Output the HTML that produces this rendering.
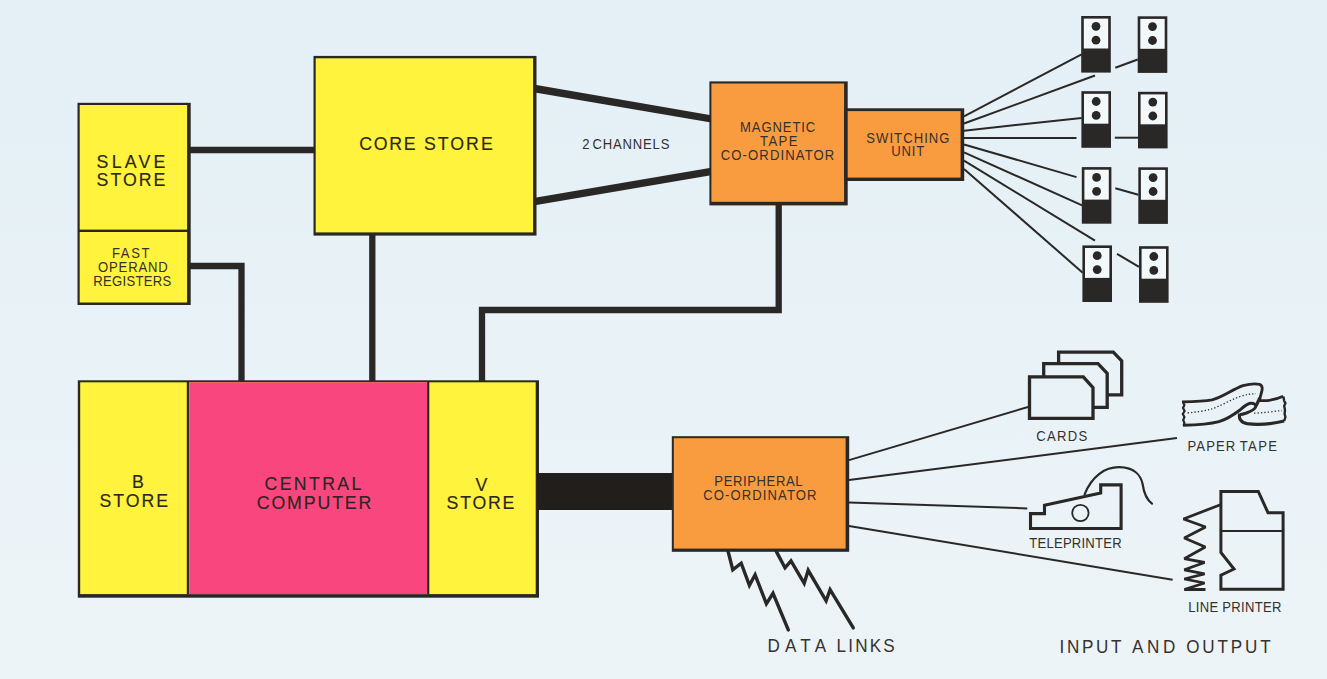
<!DOCTYPE html>
<html><head><meta charset="utf-8"><style>
html,body{margin:0;padding:0;background:#e8f2f7;}
svg{display:block;}
text{font-family:"Liberation Sans",sans-serif;fill:#35312d;}
text.L{fill:#2a2622;stroke:#2a2622;stroke-width:0.15px;}
</style></head><body>
<svg width="1327" height="679" viewBox="0 0 1327 679">
<defs><linearGradient id="bgg" x1="0" y1="0" x2="0" y2="1"><stop offset="0" stop-color="#e4f0f6"/><stop offset="0.5" stop-color="#e8f2f7"/><stop offset="1" stop-color="#edf4f7"/></linearGradient></defs>
<rect width="1327" height="679" fill="url(#bgg)"/>
<rect x="77.5" y="102.8" width="113.20" height="202.20" fill="#2a2727"/><rect x="79.70" y="105.00" width="107.40" height="197.50" fill="#fff33e"/>
<rect x="78" y="229.6" width="112" height="2.4" fill="#2a2727"/>
<rect x="313.5" y="55.9" width="223.00" height="179.70" fill="#2a2727"/><rect x="315.70" y="58.30" width="217.40" height="174.10" fill="#fff33e"/>
<line x1="189" y1="150" x2="315" y2="150" stroke="#2a2727" stroke-width="6.3"/>
<polyline points="189,266 241.5,266 241.5,381" fill="none" stroke="#2a2727" stroke-width="6.3" stroke-linejoin="miter"/>
<line x1="372.3" y1="234" x2="372.3" y2="381" stroke="#2a2727" stroke-width="6.3"/>
<polyline points="778.7,204 778.7,310 482,310 482,381" fill="none" stroke="#2a2727" stroke-width="6.3"/>
<polygon points="535,84.7 711,115.3 711,122.4 535,92.4" fill="#2a2727"/>
<polygon points="535,197.7 711,167.7 711,175.3 535,205.3" fill="#2a2727"/>
<rect x="709.4" y="81.4" width="138.30" height="124.00" fill="#2a2727"/><rect x="711.40" y="83.50" width="132.70" height="118.30" fill="#f99c40"/>
<rect x="844.1" y="108.3" width="120.10" height="72.70" fill="#2a2727"/><rect x="847.70" y="111.10" width="112.90" height="66.50" fill="#f99c40"/>
<rect x="77.8" y="380.3" width="461.20" height="217.40" fill="#2a2727"/><rect x="80.20" y="382.30" width="455.50" height="211.80" fill="#fff33e"/>
<rect x="189.3" y="382.3" width="237.7" height="211.8" fill="#f9467f"/><rect x="186.8" y="381" width="2.3" height="213" fill="#2a2727"/><rect x="427.1" y="381" width="2.2" height="213" fill="#2a2727"/>
<rect x="537" y="473" width="136" height="37" fill="#221e1c"/>
<rect x="671.8" y="436.2" width="177.40" height="115.60" fill="#2a2727"/><rect x="673.80" y="438.20" width="171.80" height="110.40" fill="#f99c40"/>
<line x1="964" y1="116.3" x2="1081.6" y2="54.4" stroke="#2a2727" stroke-width="2"/>
<line x1="964" y1="123.5" x2="1095" y2="75.5" stroke="#2a2727" stroke-width="2"/>
<line x1="964" y1="130.7" x2="1081.6" y2="118" stroke="#2a2727" stroke-width="2"/>
<line x1="964" y1="138" x2="1076.5" y2="138" stroke="#2a2727" stroke-width="2"/>
<line x1="964" y1="144.5" x2="1076.5" y2="177.1" stroke="#2a2727" stroke-width="2"/>
<line x1="964" y1="152.4" x2="1082.7" y2="205.6" stroke="#2a2727" stroke-width="2"/>
<line x1="964" y1="160.6" x2="1095" y2="240.6" stroke="#2a2727" stroke-width="2"/>
<line x1="964" y1="168.9" x2="1082.7" y2="272.7" stroke="#2a2727" stroke-width="2"/>
<line x1="1115.3" y1="67.7" x2="1137.7" y2="59.5" stroke="#2a2727" stroke-width="2"/>
<line x1="1114.8" y1="137.7" x2="1138" y2="137.7" stroke="#2a2727" stroke-width="2"/>
<line x1="1115.3" y1="188.3" x2="1138.3" y2="194.7" stroke="#2a2727" stroke-width="2"/>
<line x1="1117" y1="253.8" x2="1139" y2="266.8" stroke="#2a2727" stroke-width="2"/>
<rect x="1081.2" y="16" width="29.6" height="56.6" fill="#2a2727"/>
<rect x="1083.8" y="18.6" width="24.400000000000002" height="29.9" fill="#f3f8fb"/>
<circle cx="1096.0" cy="26.3" r="4.4" fill="#2a2727"/>
<circle cx="1096.0" cy="40.2" r="4.4" fill="#2a2727"/>
<rect x="1137.7" y="16.3" width="29.6" height="56.6" fill="#2a2727"/>
<rect x="1140.3" y="18.900000000000002" width="24.400000000000002" height="29.9" fill="#f3f8fb"/>
<circle cx="1152.5" cy="26.6" r="4.4" fill="#2a2727"/>
<circle cx="1152.5" cy="40.5" r="4.4" fill="#2a2727"/>
<rect x="1081.4" y="91.2" width="29.6" height="56.6" fill="#2a2727"/>
<rect x="1084.0" y="93.8" width="24.400000000000002" height="29.9" fill="#f3f8fb"/>
<circle cx="1096.2" cy="101.5" r="4.4" fill="#2a2727"/>
<circle cx="1096.2" cy="115.4" r="4.4" fill="#2a2727"/>
<rect x="1138" y="91.8" width="29.6" height="56.6" fill="#2a2727"/>
<rect x="1140.6" y="94.39999999999999" width="24.400000000000002" height="29.9" fill="#f3f8fb"/>
<circle cx="1152.8" cy="102.1" r="4.4" fill="#2a2727"/>
<circle cx="1152.8" cy="116.0" r="4.4" fill="#2a2727"/>
<rect x="1081.8" y="167.1" width="29.6" height="56.6" fill="#2a2727"/>
<rect x="1084.3999999999999" y="169.7" width="24.400000000000002" height="29.9" fill="#f3f8fb"/>
<circle cx="1096.6" cy="177.4" r="4.4" fill="#2a2727"/>
<circle cx="1096.6" cy="191.29999999999998" r="4.4" fill="#2a2727"/>
<rect x="1138.3" y="167.3" width="29.6" height="56.6" fill="#2a2727"/>
<rect x="1140.8999999999999" y="169.9" width="24.400000000000002" height="29.9" fill="#f3f8fb"/>
<circle cx="1153.1" cy="177.60000000000002" r="4.4" fill="#2a2727"/>
<circle cx="1153.1" cy="191.5" r="4.4" fill="#2a2727"/>
<rect x="1082.4" y="245.4" width="29.6" height="56.6" fill="#2a2727"/>
<rect x="1085.0" y="248.0" width="24.400000000000002" height="29.9" fill="#f3f8fb"/>
<circle cx="1097.2" cy="255.70000000000002" r="4.4" fill="#2a2727"/>
<circle cx="1097.2" cy="269.6" r="4.4" fill="#2a2727"/>
<rect x="1139" y="246.2" width="29.6" height="56.6" fill="#2a2727"/>
<rect x="1141.6" y="248.79999999999998" width="24.400000000000002" height="29.9" fill="#f3f8fb"/>
<circle cx="1153.8" cy="256.5" r="4.4" fill="#2a2727"/>
<circle cx="1153.8" cy="270.4" r="4.4" fill="#2a2727"/>
<line x1="849" y1="460.1" x2="1028" y2="407" stroke="#2a2727" stroke-width="2"/>
<line x1="849" y1="480.1" x2="1177" y2="438" stroke="#2a2727" stroke-width="2"/>
<line x1="849" y1="502.5" x2="1027.3" y2="508.4" stroke="#2a2727" stroke-width="2"/>
<line x1="849" y1="526" x2="1172.6" y2="579.8" stroke="#2a2727" stroke-width="2"/>
<polyline points="728,551 732.8,569.8 741.2,563.2 749.4,585.3 755.1,574.8 766.4,603.8 773,593.3 788.3,629.9" fill="none" stroke="#2a2727" stroke-width="3.4" stroke-linejoin="miter" stroke-miterlimit="3" stroke-linecap="round"/>
<polyline points="776.4,551.6 785,567.8 791,560.8 804.2,583.3 808.2,570.3 826.1,600.8 830.1,589.7 853.3,627.9" fill="none" stroke="#2a2727" stroke-width="3.4" stroke-linejoin="miter" stroke-miterlimit="3" stroke-linecap="round"/>
<path d="M1058.6,352.1 H1113.3 L1121.7,360.8 V394.8 H1058.6 Z" fill="#e8f2f7" stroke="#2a2727" stroke-width="3.3" stroke-linejoin="miter"/>
<path d="M1043.7,363.6 H1098 L1107.2,373.3 V407.4 H1043.7 Z" fill="#e8f2f7" stroke="#2a2727" stroke-width="3.3" stroke-linejoin="miter"/>
<path d="M1029.5,376.8 H1083.3 L1093,387.7 V418.4 H1029.5 Z" fill="#e8f2f7" stroke="#2a2727" stroke-width="3.3" stroke-linejoin="miter"/>
<path d="M1084.6,494.3 C1092,476 1105,467 1119.4,467.2 C1135,467.5 1141,476 1142.6,484 C1144,494 1147,500 1152,503.6" fill="none" stroke="#2a2727" stroke-width="2.2" stroke-linecap="round"/>
<path d="M1030.5,528.5 V513.6 H1044.5 V505.3 L1100.7,493.1 V484.9 H1121.1 V528.5 Z" fill="none" stroke="#2a2727" stroke-width="3.1"/>
<circle cx="1080.4" cy="513" r="8.2" fill="none" stroke="#2a2727" stroke-width="1.8"/>
<path d="M1220.9,491.5 H1258.3 L1268,512.7 H1283.1 V589.2 H1220.9 V575.2 L1234,569 L1220.9,552.4 Z" fill="none" stroke="#2a2727" stroke-width="3"/>
<line x1="1220.9" y1="531" x2="1283.1" y2="531" stroke="#2a2727" stroke-width="1.8"/>
<polyline points="1220.4,504.7 1183.5,519 1205.6,527 1184.3,538 1205.3,547 1184.3,558.7 1204.6,562.5 1184.3,569.8 1204.6,573.8 1184.3,579 1204.6,583 1184.3,589.5 1205.5,589.5" fill="none" stroke="#2a2727" stroke-width="2.8" stroke-linejoin="miter" stroke-miterlimit="2.2"/>
<path d="M1182,401.8 C1195,401.6 1205,401.2 1212,399.8 C1222,397.5 1232,389.5 1243,385.6 C1250,383.8 1256,383.6 1259.5,384.3 C1262.5,385.2 1262.6,388.5 1261.6,392 L1259.3,400.6 C1268,401.2 1276,399.5 1283.2,396.2" fill="none" stroke="#2a2727" stroke-width="2.8" stroke-linejoin="round"/>
<path d="M1283.4,396.5 L1284.2,401 L1285.4,403 L1284.2,406 L1285,410 L1284.6,414 L1285.4,417 L1284.2,421" fill="none" stroke="#2a2727" stroke-width="2.4"/>
<path d="M1284.2,421 C1272,423.8 1258,425.2 1247,423.6 C1240.5,422.5 1238.5,418 1239.8,413.8" fill="none" stroke="#2a2727" stroke-width="3.2"/>
<path d="M1183,425.2 C1198,424.9 1210,424 1219,421.6 C1228,419 1234,414.5 1240,410 C1244,406.5 1247,403.6 1250.5,403.3 C1254,403 1256.2,404.5 1255.6,407 C1255,409.5 1250.5,411.5 1246.5,413 C1243,414.2 1240.5,414.6 1239.5,414.4" fill="none" stroke="#2a2727" stroke-width="3" stroke-linejoin="round"/>
<path d="M1259.8,398 L1256,406" fill="none" stroke="#2a2727" stroke-width="3.2"/>
<path d="M1183.2,402.5 L1184.4,405 L1183,408 L1184.6,411 L1182.8,414 L1184.4,417 L1183.2,420 L1184.4,423 L1183.5,425.5" fill="none" stroke="#2a2727" stroke-width="2.2"/>
<path d="M1187.6,412.9 C1197,412 1204,411 1210,409.5 C1220,406.5 1230,400 1240,396.5 C1246,394.5 1250,393.8 1256,393.7" fill="none" stroke="#2a2727" stroke-width="1.3" stroke-dasharray="1.3,2.1"/>
<path d="M1254.1,413.2 C1264,412.8 1274,411.5 1281.7,410.5" fill="none" stroke="#2a2727" stroke-width="1.3" stroke-dasharray="1.3,2.1"/>
<text class="L" transform="scale(0.95,1)" x="101.65" y="168.02" font-size="18.70" textLength="72.47" lengthAdjust="spacing">SLAVE</text>
<text class="L" transform="scale(0.95,1)" x="101.71" y="185.98" font-size="18.70" textLength="72.39" lengthAdjust="spacing">STORE</text>
<text transform="scale(0.95,1)" x="117.88" y="257.74" font-size="13.80" textLength="39.56" lengthAdjust="spacing">FAST</text>
<text transform="scale(0.95,1)" x="103.13" y="272.04" font-size="13.80" textLength="73.51" lengthAdjust="spacing">OPERAND</text>
<text transform="scale(0.95,1)" x="98.27" y="285.70" font-size="13.80" textLength="82.01" lengthAdjust="spacing">REGISTERS</text>
<text class="L" transform="scale(0.95,1)" x="378.25" y="150.50" font-size="18.70" textLength="59.19" lengthAdjust="spacing">CORE</text>
<text class="L" transform="scale(0.95,1)" x="446.25" y="150.50" font-size="18.70" textLength="72.45" lengthAdjust="spacing">STORE</text>
<text transform="scale(0.95,1)" x="612.91" y="148.98" font-size="13.80" textLength="8.02" lengthAdjust="spacing">2</text>
<text transform="scale(0.95,1)" x="623.64" y="149.04" font-size="13.80" textLength="81.03" lengthAdjust="spacing">CHANNELS</text>
<text transform="scale(0.95,1)" x="778.94" y="131.86" font-size="13.80" textLength="79.31" lengthAdjust="spacing">MAGNETIC</text>
<text transform="scale(0.95,1)" x="800.01" y="145.92" font-size="13.80" textLength="39.38" lengthAdjust="spacing">TAPE</text>
<text transform="scale(0.95,1)" x="758.69" y="159.90" font-size="13.80" textLength="119.48" lengthAdjust="spacing">CO-ORDINATOR</text>
<text transform="scale(0.95,1)" x="911.90" y="142.62" font-size="13.80" textLength="87.59" lengthAdjust="spacing">SWITCHING</text>
<text transform="scale(0.95,1)" x="938.19" y="155.70" font-size="13.80" textLength="34.63" lengthAdjust="spacing">UNIT</text>
<text class="L" transform="scale(0.95,1)" x="138.90" y="487.70" font-size="18.70" textLength="12.11" lengthAdjust="spacing">B</text>
<text class="L" transform="scale(0.95,1)" x="104.84" y="506.86" font-size="18.70" textLength="72.22" lengthAdjust="spacing">STORE</text>
<text class="L" transform="scale(0.95,1)" x="278.52" y="490.30" font-size="18.70" textLength="101.85" lengthAdjust="spacing">CENTRAL</text>
<text class="L" transform="scale(0.95,1)" x="270.31" y="508.70" font-size="18.70" textLength="120.59" lengthAdjust="spacing">COMPUTER</text>
<text class="L" transform="scale(0.95,1)" x="500.60" y="491.10" font-size="18.70" textLength="13.67" lengthAdjust="spacing">V</text>
<text class="L" transform="scale(0.95,1)" x="470.05" y="508.90" font-size="18.70" textLength="71.39" lengthAdjust="spacing">STORE</text>
<text transform="scale(0.95,1)" x="751.93" y="485.70" font-size="13.80" textLength="92.92" lengthAdjust="spacing">PERIPHERAL</text>
<text transform="scale(0.95,1)" x="740.30" y="500.18" font-size="13.80" textLength="119.20" lengthAdjust="spacing">CO-ORDINATOR</text>
<text transform="scale(0.95,1)" x="807.83" y="651.70" font-size="18.00" textLength="61.79" lengthAdjust="spacing">DATA</text>
<text transform="scale(0.95,1)" x="880.67" y="651.80" font-size="18.00" textLength="61.01" lengthAdjust="spacing">LINKS</text>
<text transform="scale(0.95,1)" x="1115.34" y="653.26" font-size="18.00" textLength="65.17" lengthAdjust="spacing">INPUT</text>
<text transform="scale(0.95,1)" x="1191.46" y="653.38" font-size="18.00" textLength="45.84" lengthAdjust="spacing">AND</text>
<text transform="scale(0.95,1)" x="1248.64" y="653.38" font-size="18.00" textLength="88.96" lengthAdjust="spacing">OUTPUT</text>
<text transform="scale(0.95,1)" x="1090.90" y="440.90" font-size="13.80" textLength="53.59" lengthAdjust="spacing">CARDS</text>
<text transform="scale(0.95,1)" x="1250.02" y="450.90" font-size="13.80" textLength="50.23" lengthAdjust="spacing">PAPER</text>
<text transform="scale(0.95,1)" x="1304.93" y="451.22" font-size="13.80" textLength="39.26" lengthAdjust="spacing">TAPE</text>
<text transform="scale(0.95,1)" x="1083.53" y="548.30" font-size="13.80" textLength="97.17" lengthAdjust="spacing">TELEPRINTER</text>
<text transform="scale(0.95,1)" x="1250.82" y="611.82" font-size="13.80" textLength="31.42" lengthAdjust="spacing">LINE</text>
<text transform="scale(0.95,1)" x="1286.61" y="611.82" font-size="13.80" textLength="62.37" lengthAdjust="spacing">PRINTER</text>
</svg>
</body></html>
